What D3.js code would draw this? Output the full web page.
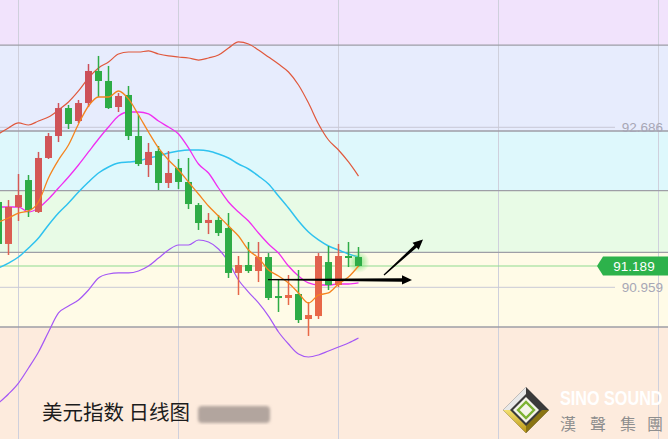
<!DOCTYPE html>
<html><head><meta charset="utf-8">
<script src="https://cdn.jsdelivr.net/npm/d3@7"></script>
<style>html,body{margin:0;padding:0;background:#fff;overflow:hidden}</style>
</head><body><svg id="c" width="668" height="439"></svg>
<script>
// ---- data (US Dollar Index, daily) ----
const days = d3.range(37);
const open  = [91.880,91.427,91.826,92.117,91.772,92.355,92.592,92.894,92.754,92.948,93.294,93.186,92.905,93.035,92.592,92.279,92.430,92.085,92.247,92.096,91.847,91.653,91.686,91.599,91.114,91.200,91.135,91.286,90.865,90.844,90.887,90.617,90.649,91.232,90.984,91.297,91.286];
const high  = [91.923,91.901,92.182,92.171,92.420,92.625,92.948,92.927,92.981,93.369,93.456,93.348,93.056,93.132,92.819,92.517,92.484,92.430,92.344,92.355,91.869,91.761,91.740,91.761,91.297,91.448,91.448,91.329,91.049,91.092,91.146,90.801,91.329,91.405,91.427,91.448,91.394];
const low   = [91.383,91.308,91.675,91.718,91.761,92.344,92.527,92.668,92.733,92.905,93.013,92.884,92.851,92.549,92.268,92.150,92.009,92.031,92.020,91.804,91.578,91.534,91.513,91.060,90.876,91.114,91.016,90.822,90.693,90.768,90.574,90.434,90.617,90.930,90.962,91.178,91.178];
const close = [91.427,91.826,91.955,91.793,92.355,92.592,92.894,92.722,92.948,93.294,93.186,92.894,93.024,92.592,92.290,92.420,92.085,92.193,92.096,91.858,91.653,91.686,91.545,91.114,91.200,91.135,91.286,90.844,90.844,90.876,90.606,90.660,91.297,90.984,91.297,91.281,91.189];
const ma5   = [91.664,91.707,91.761,91.783,91.880,92.139,92.333,92.495,92.722,92.916,93.013,93.013,93.078,92.992,92.819,92.635,92.463,92.333,92.225,92.096,91.966,91.837,91.729,91.621,91.513,91.362,91.275,91.146,91.081,91.006,90.898,90.790,90.876,90.898,90.995,91.070,91.189];
const ma10  = [91.826,91.826,91.826,91.772,91.815,91.912,92.031,92.150,92.279,92.420,92.560,92.689,92.808,92.851,92.851,92.830,92.754,92.689,92.614,92.463,92.290,92.193,92.031,91.880,91.772,91.675,91.545,91.427,91.329,91.189,91.081,91.006,90.984,90.984,90.995,90.995,91.006];
const bollMid = [91.168,91.221,91.286,91.383,91.491,91.632,91.761,91.869,91.988,92.096,92.193,92.258,92.301,92.312,92.322,92.355,92.376,92.409,92.430,92.441,92.441,92.430,92.398,92.355,92.290,92.236,92.160,92.074,91.945,91.815,91.675,91.556,91.470,91.405,91.362,91.319,91.286];
const bollUp  = [92.614,92.679,92.733,92.711,92.754,92.797,92.873,92.959,93.078,93.218,93.326,93.391,93.477,93.499,93.499,93.510,93.477,93.456,93.445,93.434,93.412,93.434,93.466,93.542,93.607,93.585,93.520,93.445,93.369,93.283,93.143,92.948,92.722,92.549,92.441,92.312,92.160];
const bollLow = [89.710,89.808,89.926,90.088,90.261,90.477,90.682,90.757,90.822,90.930,91.060,91.103,91.114,91.114,91.135,91.189,91.275,91.362,91.416,91.416,91.470,91.448,91.373,91.232,91.038,90.908,90.790,90.649,90.477,90.347,90.239,90.207,90.229,90.272,90.315,90.358,90.412];
const levels = [93.574, 92.646, 92.002, 91.337, 90.531];
const refLevels = [92.686, 90.959];
const lastPrice = 91.189;
const title = "美元指数 日线图";
const gridDays = [2, 18, 34, 50, 66];
const arrowH = [[26.95, 91.043], [41.35, 91.038]];
const arrowD = [[38.55, 91.092], [42.45, 91.475]];

// ---- drawing ----
const W = 668, H = 439;
const svg = d3.select("#c");
const x = d3.scaleLinear().domain([0, 36]).range([-1.5, 358.5]);
const y = d3.scaleLinear().domain([89.322, 94.060]).range([H, 0]);

const defs = svg.append("defs");
const ug = defs.append("linearGradient").attr("id","upG").attr("gradientUnits","userSpaceOnUse")
  .attr("x1",0).attr("y1",0).attr("x2",0).attr("y2",H);
[[0,"#c84858"],[0.3,"#cf5459"],[0.55,"#dc5e52"],[0.68,"#e86848"],[1,"#ec6a42"]]
  .forEach(([o,c])=>ug.append("stop").attr("offset",o).attr("stop-color",c));
const gl = defs.append("radialGradient").attr("id","glow");
gl.append("stop").attr("offset",0).attr("stop-color","#6ee06e").attr("stop-opacity",0.85);
gl.append("stop").attr("offset",1).attr("stop-color","#6ee06e").attr("stop-opacity",0);
defs.append("filter").attr("id","blur").append("feGaussianBlur").attr("stdDeviation",1.6);
const lg = defs.append("linearGradient").attr("id","gold").attr("x1",0).attr("y1",0).attr("x2",0).attr("y2",1);
lg.append("stop").attr("offset",0).attr("stop-color","#f4e070");
lg.append("stop").attr("offset",1).attr("stop-color","#b89410");

// background bands
const bandEdges = [y.domain()[1], ...levels, y.domain()[0]];
const bandColors = ["#f1e3fc","#e7ecfd","#def8fc","#e8fbe6","#fffbe7","#fdebdd"];
svg.selectAll("rect.band").data(bandColors).join("rect")
  .attr("x",0).attr("width",W)
  .attr("y",(d,i)=>y(bandEdges[i])).attr("height",(d,i)=>y(bandEdges[i+1])-y(bandEdges[i]))
  .attr("fill",d=>d);

// vertical grid
svg.selectAll("line.vg").data(gridDays).join("line")
  .attr("x1",d=>x(d)).attr("x2",d=>x(d)).attr("y1",0).attr("y2",H)
  .attr("stroke","#cfd0dc").attr("stroke-width",1);

// level lines
svg.selectAll("line.lv").data(levels).join("line")
  .attr("x1",0).attr("x2",W).attr("y1",d=>y(d)).attr("y2",d=>y(d))
  .attr("stroke","#9e9ea6").attr("stroke-width",1.3);
svg.selectAll("line.rf").data(refLevels).join("line")
  .attr("x1",0).attr("x2",615).attr("y1",d=>y(d)).attr("y2",d=>y(d))
  .attr("stroke","#c9c9d6").attr("stroke-width",1);
svg.append("line").attr("x1",0).attr("x2",600).attr("y1",y(lastPrice)).attr("y2",y(lastPrice))
  .attr("stroke","#8fdc8f").attr("stroke-width",1.2);

// indicator lines
const line = d3.line().x((d,i)=>x(i)).y(d=>y(d)).curve(d3.curveMonotoneX);
[[bollUp,"#e0583c",1.2],[bollLow,"#a457f5",1.2],[bollMid,"#2fc2ef",1.5],[ma10,"#f02ef0",1.3]]
  .forEach(([d,c,w])=>svg.append("path").attr("d",line(d)).attr("fill","none").attr("stroke",c).attr("stroke-width",w));

// glow on last candle
svg.append("circle").attr("cx",x(36)).attr("cy",y(close[36])-4).attr("r",11).attr("fill","url(#glow)");

// candles
const bw = 7;
const cg = svg.append("g");
days.forEach(i=>{
  const up = close[i] >= open[i];
  const col = up ? "url(#upG)" : "#2eac46";
  cg.append("rect").attr("x",x(i)-0.75).attr("width",1.5)
    .attr("y",y(high[i])).attr("height",y(low[i])-y(high[i])).attr("fill",col);
  const top = y(Math.max(open[i],close[i])), bot = y(Math.min(open[i],close[i]));
  cg.append("rect").attr("x",x(i)-bw/2).attr("width",bw)
    .attr("y",top).attr("height",Math.max(2,bot-top)).attr("fill",col);
});

// MA5 on top
svg.append("path").attr("d",line(ma5)).attr("fill","none").attr("stroke","#f5841f").attr("stroke-width",1.3);

// arrows
function arrow(p1,p2,w1,w2,hl,hw){
  const x1=x(p1[0]),y1=y(p1[1]),x2=x(p2[0]),y2=y(p2[1]);
  const L=Math.hypot(x2-x1,y2-y1), ux=(x2-x1)/L, uy=(y2-y1)/L, nx=-uy, ny=ux;
  const bx=x2-ux*hl, by=y2-uy*hl;
  const pts=[[x1+nx*w1/2,y1+ny*w1/2],[bx+nx*w2/2,by+ny*w2/2],[bx+nx*hw,by+ny*hw],[x2,y2],
    [bx-nx*hw,by-ny*hw],[bx-nx*w2/2,by-ny*w2/2],[x1-nx*w1/2,y1-ny*w1/2]];
  svg.append("polygon").attr("points",pts.map(p=>p.join(",")).join(" ")).attr("fill","#000");
}
arrow(arrowH[0],arrowH[1],1.2,3.6,10,4.6);
arrow(arrowD[0],arrowD[1],1.2,3.2,10,4.6);

// right labels
svg.selectAll("text.rf").data(refLevels).join("text")
  .attr("x",663).attr("y",d=>y(d)+5).attr("text-anchor","end")
  .attr("font-family","Liberation Sans, Arial, sans-serif").attr("font-size",13.5)
  .attr("fill","#a7a7b6").text(d=>d.toFixed(3));
const ty = y(lastPrice);
svg.append("polygon").attr("points",`597,${ty} 603,${ty-9.5} ${W},${ty-9.5} ${W},${ty+9.5} 603,${ty+9.5}`).attr("fill","#2db24b");
svg.append("text").attr("x",634).attr("y",ty+5).attr("text-anchor","middle")
  .attr("font-family","Liberation Sans, Arial, sans-serif").attr("font-size",13.5)
  .attr("fill","#fff").text(lastPrice.toFixed(3));

// title
svg.append("text").attr("x",42).attr("y",420)
  .attr("font-family","Noto Sans CJK SC, sans-serif").attr("font-size",20.5)
  .attr("fill","#1c1c1c").text(title);
svg.append("rect").attr("x",198).attr("y",406).attr("width",72).attr("height",17).attr("rx",4)
  .attr("fill","#b2a59e").attr("filter","url(#blur)");

// logo
const lc = [526, 410];
function dia(cx,cy,rx,ry){return `${cx-rx},${cy} ${cx},${cy-ry} ${cx+rx},${cy} ${cx},${cy+ry}`;}
const lgG = svg.append("g");
lgG.append("polygon").attr("points",dia(lc[0],lc[1],23,23)).attr("fill","#3a3a3a");
lgG.append("polygon").attr("points",`${lc[0]-23},${lc[1]} ${lc[0]},${lc[1]-23} ${lc[0]},${lc[1]-16} ${lc[0]-16},${lc[1]}`).attr("fill","#e8e8e8");
lgG.append("polygon").attr("points",`${lc[0]-23},${lc[1]} ${lc[0]-16},${lc[1]} ${lc[0]},${lc[1]+16} ${lc[0]},${lc[1]+23}`).attr("fill","url(#gold)");
lgG.append("polygon").attr("points",`${lc[0]+23},${lc[1]} ${lc[0]+16},${lc[1]} ${lc[0]},${lc[1]+16} ${lc[0]},${lc[1]+23}`).attr("fill","#8a7412");
lgG.append("polygon").attr("points",dia(lc[0],lc[1],13,13)).attr("fill","#f4f4ea");
lgG.append("polygon").attr("points",dia(lc[0],lc[1],8,8)).attr("fill","none").attr("stroke","#7bb232").attr("stroke-width",2.4);
svg.append("text").attr("transform","translate(560,405) scale(1,1.2)")
  .attr("font-family","Liberation Sans, Arial, sans-serif").attr("font-weight","bold").attr("font-size",16.2)
  .attr("fill","#ffffff").text("SINO SOUND");
["漢","聲","集","團"].forEach((ch,i)=>svg.append("text").attr("x",[560,590,620,647][i]).attr("y",430)
  .attr("font-family","Noto Sans CJK TC, sans-serif").attr("font-size",16)
  .attr("fill","#8e8e8e").text(ch));
</script></body></html>
